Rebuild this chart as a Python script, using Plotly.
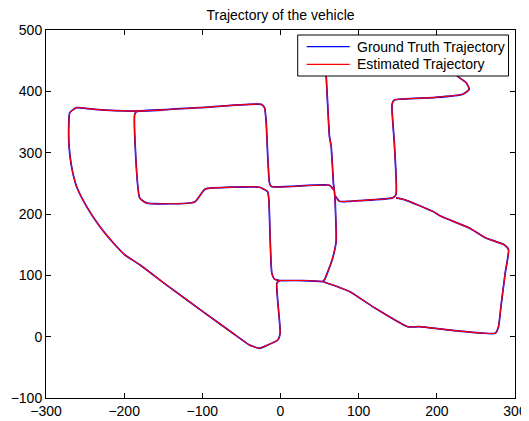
import plotly.graph_objects as go

# ---- data ----
# north road: from under the legend down to the junction near (55, 90)
north_x = [57.0, 58.4, 62.6, 64.8, 67.7, 69.5, 70.5, 71.2, 66.0, 56.2, 54.0]
north_y = [440.0, 425.0, 327.0, 310.6, 250.8, 230.0, 200.0, 155.3, 125.0, 92.7, 89.9]

# east branch: along y~220, up x~145, to the top-right bend (under legend)
east_x = [70.3, 75.4, 88.2, 100.9, 143.5, 147.8, 145.6, 142.7, 145.6, 194.6, 232.9, 241.5, 237.3, 228.7, 220.0]
east_y = [228.9, 220.7, 220.7, 221.8, 226.3, 231.7, 316.2, 378.8, 385.8, 389.7, 395.1, 403.3, 414.3, 422.4, 432.0]

# south-east quadrilateral
quad_x = [147.8, 158.4, 194.6, 205.3, 241.5, 262.8, 286.2, 291.7, 287.5, 282.0, 278.9, 274.7,
          177.6, 162.6, 117.9, 88.2, 54.0]
quad_y = [226.3, 223.5, 204.4, 196.2, 177.2, 160.9, 149.9, 141.7, 104.1, 49.0, 16.3, 5.6,
          16.3, 16.3, 49.0, 73.6, 89.9]

# link between the two vertical roads near y~90
link_x = [54.0, 28.5, -1.3]
link_y = [89.9, 91.5, 91.5]

# outer loop: junction -> west rectangle side -> top road -> big west curve -> back
outer_x = [67.7, 62.6, -11.5, -14.1, -18.3, -20.4, -24.7, -103.5, -186.5, -237.6, -246.2, -261.0,
           -269.6, -270.9, -270.5, -267.4, -261.0, -248.2, -231.2, -207.9, -199.3, -180.1, -146.0,
           -99.3, -60.9, -39.6, -26.8, -18.3, -3.4, -0.4, -4.7, -1.3]
outer_y = [239.8, 246.9, 244.7, 250.8, 348.9, 373.4, 378.8, 373.4, 367.8, 370.6, 371.8, 373.4,
           365.2, 343.3, 310.6, 277.9, 245.2, 212.5, 179.8, 144.5, 133.6, 117.2, 84.5,
           40.9, 5.6, -13.6, -19.0, -14.7, -5.4, 5.6, 87.3, 91.5]

# inner loop: up x~-13, west along y~240, step, south side, west side, onto top road
inner_x = [-1.3, -7.7, -11.1, -14.9, -16.6, -26.8, -95.8, -99.3, -109.9, -171.6, -180.1, -186.5, -184.0, -150.0]
inner_y = [91.5, 93.8, 103.6, 223.5, 236.5, 243.6, 241.0, 237.0, 219.7, 218.1, 226.3, 362.4, 367.0, 369.5]

segments = [(north_x, north_y), (east_x, east_y), (quad_x, quad_y),
            (link_x, link_y), (outer_x, outer_y), (inner_x, inner_y)]

x_ticks = [-300, -200, -100, 0, 100, 200, 300]
y_ticks = [-100, 0, 100, 200, 300, 400, 500]
series_names = ["Ground Truth Trajectory", "Estimated Trajectory"]
series_colors = ["rgb(0,0,255)", "rgb(255,0,0)"]

traj_x, traj_y = [], []
for sx, sy in segments:
    traj_x += sx + [None]
    traj_y += sy + [None]

FONT = "Liberation Sans, Arial, Helvetica, sans-serif"

fig = go.Figure()
fig.add_trace(go.Scatter(x=traj_x, y=traj_y, mode="lines", name=series_names[0],
                         line=dict(color=series_colors[0], width=1.7, shape="spline", smoothing=0.5),
                         connectgaps=False, showlegend=False))
fig.add_trace(go.Scatter(x=traj_x, y=traj_y, mode="lines", name=series_names[1],
                         line=dict(color=series_colors[1], width=1.1, shape="spline", smoothing=0.5),
                         connectgaps=False, showlegend=False))

axis_common = dict(showline=True, linecolor="black", linewidth=1, mirror="ticks",
                   ticks="inside", ticklen=5, tickcolor="black", showgrid=False,
                   zeroline=False, automargin=False,
                   tickfont=dict(family=FONT, size=14, color="black"))

# legend box (MATLAB style), drawn in paper coordinates
leg_x0, leg_x1, leg_y0, leg_y1 = 0.5367, 0.9862, 0.875, 0.9864
row_y = [0.9546, 0.9068]
line_x0, line_x1, text_x = 0.5559, 0.6475, 0.6581

shapes = [dict(type="rect", xref="paper", yref="paper", x0=leg_x0, x1=leg_x1, y0=leg_y0, y1=leg_y1,
               line=dict(color="black", width=1), fillcolor="white", layer="above")]
annotations = []
for name, col, ry in zip(series_names, series_colors, row_y):
    shapes.append(dict(type="line", xref="paper", yref="paper", x0=line_x0, x1=line_x1, y0=ry, y1=ry,
                       line=dict(color=col, width=1.2), layer="above"))
    annotations.append(dict(text=name, xref="paper", yref="paper", x=text_x, y=ry,
                            xanchor="left", yanchor="middle", showarrow=False,
                            font=dict(family=FONT, size=14, color="black")))

# the page body has an 8px margin, so the figure is shifted by 8px; compensate
fig.update_layout(
    width=521, height=413,
    margin=dict(l=38, r=13.5, t=22, b=23, pad=0, autoexpand=False),
    paper_bgcolor="white", plot_bgcolor="white",
    title=dict(text="Trajectory of the vehicle", x=0.5, xref="paper", xanchor="center",
               y=1 - 7.5 / 413, yanchor="middle", yref="container", automargin=False,
               font=dict(family=FONT, size=14, color="black")),
    xaxis=dict(range=[-300, 300], tickvals=x_ticks, **axis_common),
    yaxis=dict(range=[-100, 500], tickvals=y_ticks, **axis_common),
    shapes=shapes,
    annotations=annotations,
    showlegend=False,
)

fig.write_html("out.html")
